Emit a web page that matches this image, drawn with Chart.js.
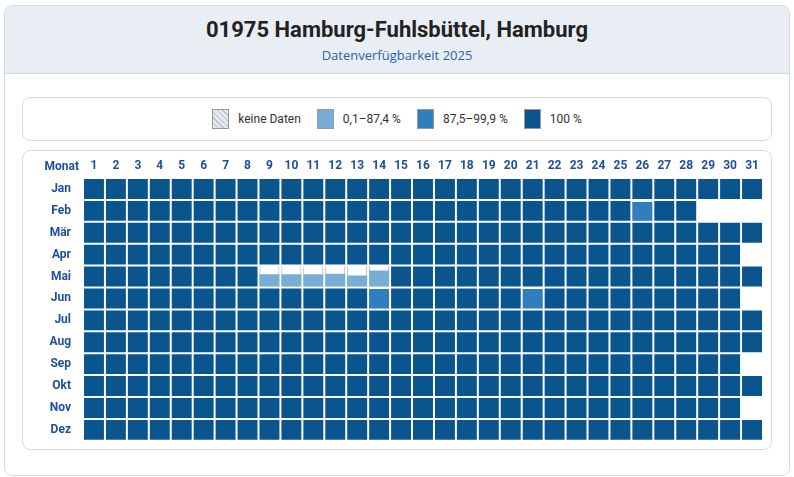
<!DOCTYPE html>
<html><head><meta charset="utf-8">
<script src="https://cdn.jsdelivr.net/npm/chart.js@4/dist/chart.umd.min.js"></script>
<style>
body{margin:0;background:#fff;font-family:Roboto,sans-serif;}
#card{position:absolute;left:4px;top:5px;width:784px;height:469px;border:1px solid #d5dbe3;border-radius:8px;overflow:hidden;}
#hdr{height:67px;background:#e9eef5;border-bottom:1px solid #d0d7e0;text-align:center;}
#t{font-weight:700;font-size:22px;color:#222;padding-top:11px;}
#s{font-size:13px;color:#2a62a8;margin-top:4px;font-family:"Open Sans",sans-serif;}
#leg{position:absolute;left:22px;top:97px;width:748px;height:42px;border:1px solid #d5dbe3;border-radius:8px;display:flex;justify-content:center;align-items:center;font-size:12px;color:#333;}
.li{display:flex;align-items:center;margin:0 8px;}
.sw{width:17px;height:20px;margin-right:9px;border:1px solid #999;box-sizing:border-box;}
#box{position:absolute;left:22px;top:150px;width:748px;height:298px;border:1px solid #d5dbe3;border-radius:8px;}
#cv{position:absolute;left:22px;top:152px;width:750px;height:300px;}
</style></head><body>
<div id="card"><div id="hdr"><div id="t">01975 Hamburg-Fuhlsbüttel, Hamburg</div><div id="s">Datenverfügbarkeit 2025</div></div></div>
<div id="leg">
<div class="li"><div class="sw" style="background:repeating-linear-gradient(45deg,#e4e7ec 0 3px,#b9bec6 3px 4px)"></div>keine Daten</div>
<div class="li"><div class="sw" style="background:#78aed6"></div>0,1–87,4 %</div>
<div class="li"><div class="sw" style="background:#2f7fbf"></div>87,5–99,9 %</div>
<div class="li"><div class="sw" style="background:#0b558f"></div>100 %</div>
</div>
<div id="box"></div>
<div id="cv"><canvas id="c"></canvas></div>
<script>
const months=['Jan','Feb','Mär','Apr','Mai','Jun','Jul','Aug','Sep','Okt','Nov','Dez'];
const daysInMonth=[31,28,31,30,31,30,31,31,30,31,30,31];
const dayLabels=Array.from({length:31},(_,i)=>String(i+1));
const partialMonth=[1,4,4,4,4,4,4,5,5];
const partialDay=[26,9,10,11,12,13,14,14,21];
const partialValue=[95,62,62,62,64,55,80,98,97];

function col(v){return v>=100?'#0b558f':(v>=87.5?'#2f7fbf':'#78aed6');}
const bg=[],fg=[],fgCol=[],bgBorder=[];
for(let m=0;m<12;m++)for(let d=1;d<=daysInMonth[m];d++){
  let v=100;
  for(let k=0;k<partialMonth.length;k++)if(partialMonth[k]===m&&partialDay[k]===d)v=partialValue[k];
  const top=m+0.045,bot=m+0.955;
  bg.push({x:String(d),y:[top,bot]});
  bgBorder.push(v<100?'#a0a6ae':'rgba(0,0,0,0)');
  fg.push({x:String(d),y:[bot-(bot-top)*v/100,bot]});
  fgCol.push(col(v));
}
new Chart(document.getElementById('c'),{
 type:'bar',
 data:{labels:dayLabels,datasets:[
  {data:fg,backgroundColor:fgCol,borderWidth:0,grouped:false,barPercentage:0.91,categoryPercentage:1,order:0},
  {data:bg,backgroundColor:'#fff',borderColor:bgBorder,borderWidth:1,grouped:false,barPercentage:0.91,categoryPercentage:1,order:1}
 ]},
 options:{responsive:true,maintainAspectRatio:false,animation:false,
  layout:{padding:{right:9,bottom:8,left:0,top:0}},
  plugins:{legend:{display:false},tooltip:{enabled:false}},
  scales:{
   x:{position:'top',grid:{display:false},border:{display:false},
      ticks:{color:'#1d4f9c',font:{family:'Roboto',weight:'bold',size:12},padding:-3},
      afterFit(s){s.height=26;}},
   y:{type:'linear',min:0,max:12,reverse:true,grid:{display:false},border:{display:false},
      afterBuildTicks(s){s.ticks=months.map((_,i)=>({value:i+0.5}));},
      ticks:{color:'#1d4f9c',font:{family:'Roboto',weight:'bold',size:12},padding:4,
        callback:(v)=>months[Math.floor(v)]},
      afterFit(s){s.width=61;}}
  }},
 plugins:[{id:'monat',afterDraw(c){const x=c.ctx;x.save();x.font='bold 12px Roboto';x.fillStyle='#1d4f9c';x.textAlign='right';x.textBaseline='middle';x.fillText('Monat',57,15);x.restore();}}]
});
</script></body></html>
